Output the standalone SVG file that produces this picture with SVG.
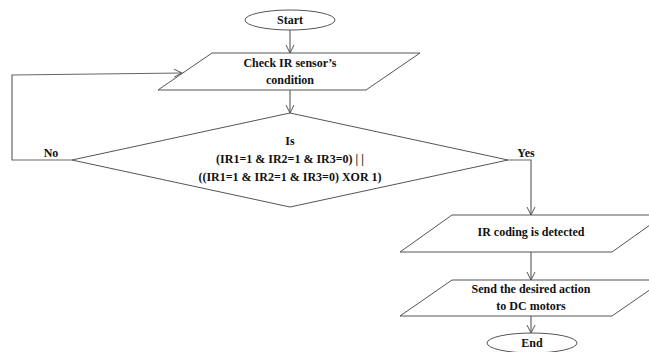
<svg xmlns="http://www.w3.org/2000/svg" width="649" height="352" viewBox="0 0 649 352">
<style>
.s{fill:#fff;stroke:#555;stroke-width:1}
.c{fill:none;stroke:#666;stroke-width:1.2}
text{font-family:'Liberation Serif','DejaVu Serif','Noto Serif',serif;font-weight:bold;font-size:12px;fill:#111;text-anchor:middle}
</style>
<defs>
<marker id="a" markerWidth="10" markerHeight="10" refX="9" refY="5" orient="auto" markerUnits="userSpaceOnUse">
<path d="M1,1 L9,5 L1,9" fill="none" stroke="#555" stroke-width="1"/>
</marker>
</defs>
<rect width="649" height="352" fill="#fff"/>
<g id="connectors">
<path class="c" d="M290,30 V53" marker-end="url(#a)"/>
<path class="c" d="M290,90 V113" marker-end="url(#a)"/>
<path class="c" d="M72,160 H12 V75 L182,73" marker-end="url(#a)"/>
<path class="c" d="M508,160 H531 V215" marker-end="url(#a)"/>
<path class="c" d="M531,252 V280" marker-end="url(#a)"/>
<path class="c" d="M531,316 V333" marker-end="url(#a)"/>
<text x="51" y="157">No</text>
<text x="526" y="157">Yes</text>
</g>
<g id="start">
<ellipse class="s" cx="290" cy="20" rx="45" ry="10"/>
<text x="290" y="24">Start</text>
</g>
<g id="check">
<polygon class="s" points="212,53 420,53 366,90 158,90"/>
<text x="290" y="67">Check IR sensor’s</text>
<text x="290" y="84">condition</text>
</g>
<g id="decision">
<polygon class="s" points="290,113 508,160 290,207 72,160"/>
<text x="290" y="145">Is</text>
<text x="290" y="163">(IR1=1 &amp; IR2=1 &amp; IR3=0) | |</text>
<text x="290" y="181">((IR1=1 &amp; IR2=1 &amp; IR3=0) XOR 1)</text>
</g>
<g id="detected">
<polygon class="s" points="452,215 664,215 612,252 400,252"/>
<text x="531" y="236">IR coding is detected</text>
</g>
<g id="send">
<polygon class="s" points="452,280 664,280 612,316 400,316"/>
<text x="531" y="293">Send the desired action</text>
<text x="531" y="310">to DC motors</text>
</g>
<g id="end">
<ellipse class="s" cx="532" cy="343" rx="45" ry="10"/>
<text x="532" y="347">End</text>
</g>
</svg>
